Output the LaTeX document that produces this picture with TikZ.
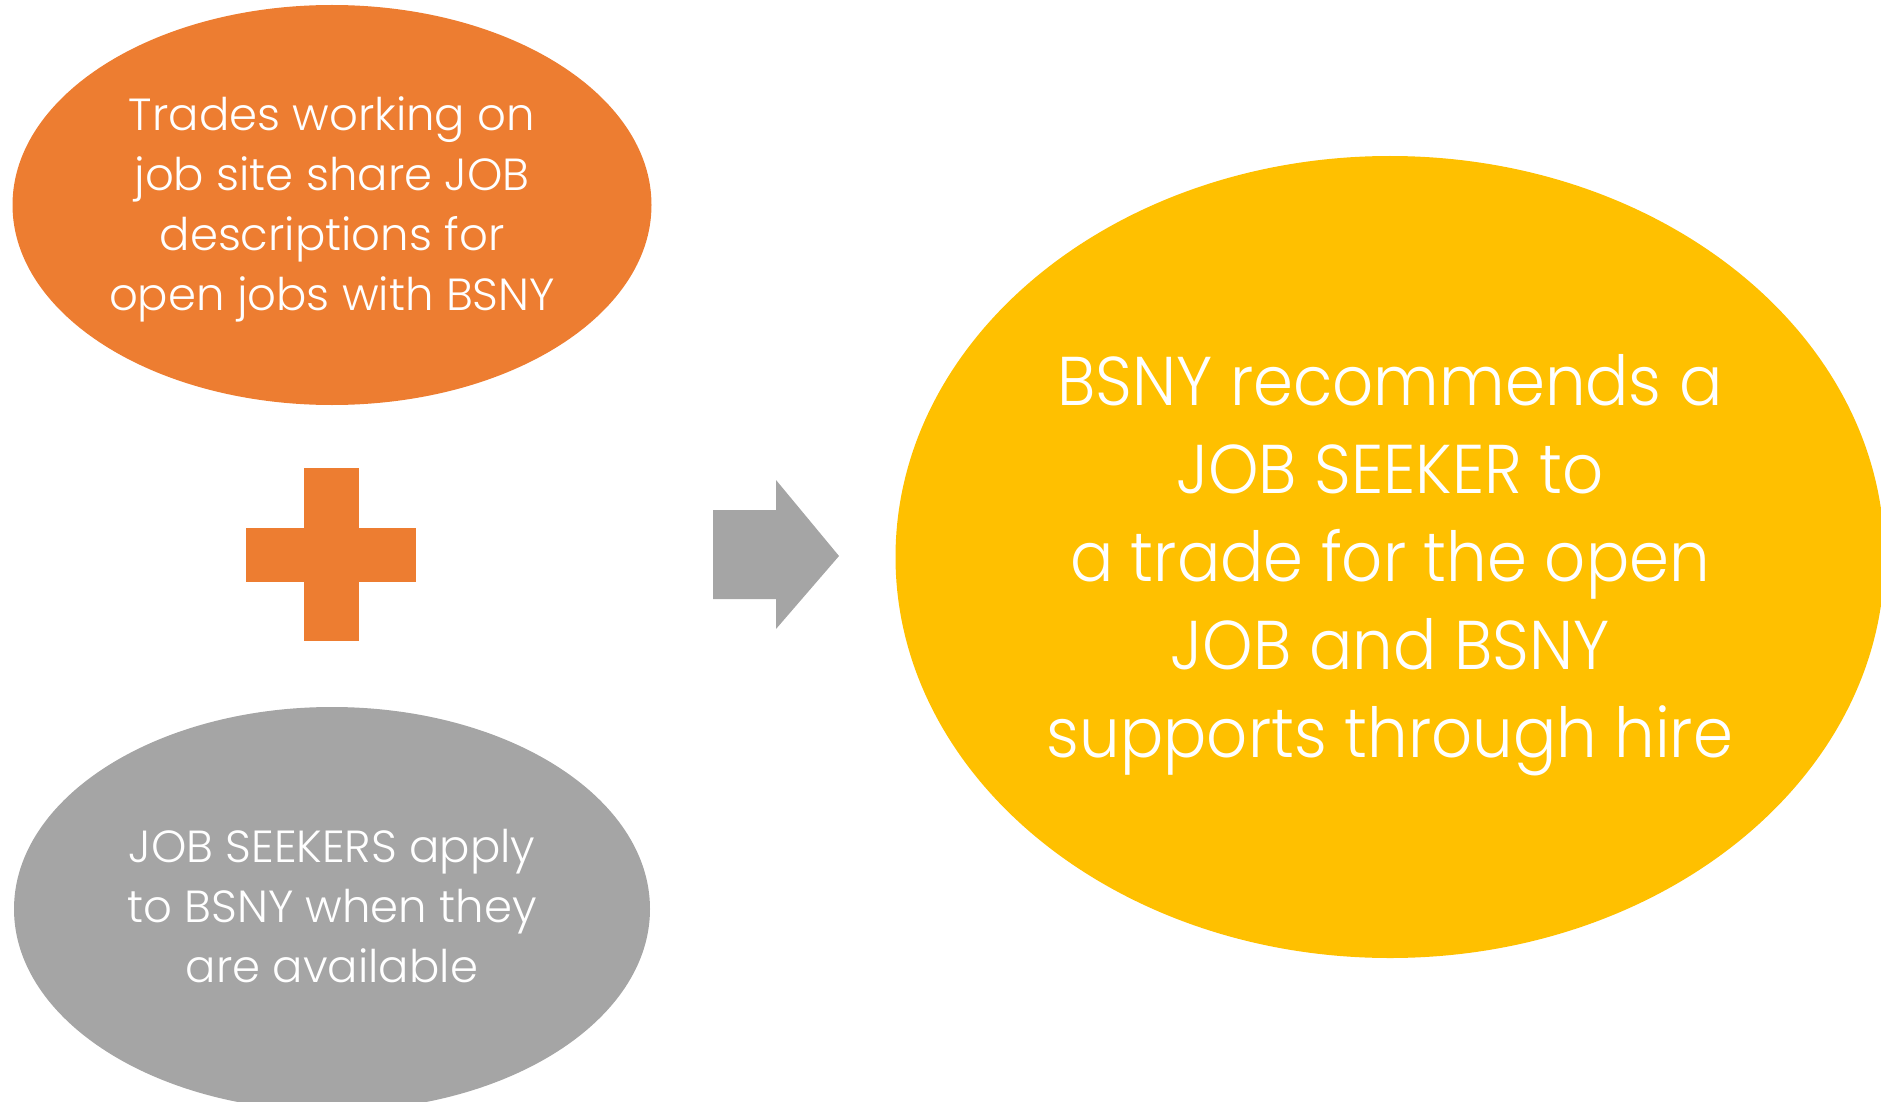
\documentclass[tikz,border=0pt]{standalone}
\usepackage{fontspec}
\setmainfont{Poppins Light}
\newfontfamily\headlinefont{Poppins Light}[FakeStretch=0.93]
\usetikzlibrary{shapes.geometric}
\definecolor{tradeorange}{HTML}{ED7D31}
\definecolor{seekergray}{HTML}{A5A5A5}
\definecolor{hireyellow}{HTML}{FFC000}
\begin{document}
\begin{tikzpicture}[x=1pt,y=-1pt,
  blob/.style={ellipse, inner sep=0pt, draw=none},
  blobtext/.style={text=white, align=center, inner sep=0pt},
  smalltext/.style={font=\fontsize{45}{60}\selectfont},
  bigtext/.style={font=\headlinefont\fontsize{69}{88}\selectfont}]
  \useasboundingbox (0,0) rectangle (1881,1102);
  % three statements
  \node[blob, fill=tradeorange, minimum width=639pt, minimum height=400pt]
    (trades) at (332,205) {};
  \node[blobtext, smalltext] (tradestext) at (332,209)
    {Trades working on\\job site share JOB\\descriptions for\\open jobs with BSNY};
  \begin{scope}
    \clip (0,0) rectangle (1881,1102);
    \node[blob, fill=seekergray, minimum width=636pt, minimum height=404pt]
      (seekers) at (332,909) {};
    \node[blob, fill=hireyellow, minimum width=989pt, minimum height=802pt]
      (hire) at (1390,557) {};
  \end{scope}
  \node[blobtext, smalltext] (seekerstext) at (332,906.5)
    {JOB SEEKERS apply\\to BSNY when they\\are available};
  \node[blobtext, bigtext] (hiretext) at (1390,565)
    {BSNY recommends a\\JOB SEEKER to\\a trade for the open\\JOB and BSNY\\supports through hire};
  % plus sign between the two inputs
  \fill[tradeorange] (304,468) rectangle (359,641);
  \fill[tradeorange] (246,528) rectangle (416,582);
  % block arrow pointing to the outcome
  \coordinate (arrowtip) at (839,556);
  \fill[seekergray] (713,510) -- (776,510) -- (776,480) -- (arrowtip)
    -- (776,629) -- (776,599) -- (713,599) -- cycle;
\end{tikzpicture}
\end{document}
